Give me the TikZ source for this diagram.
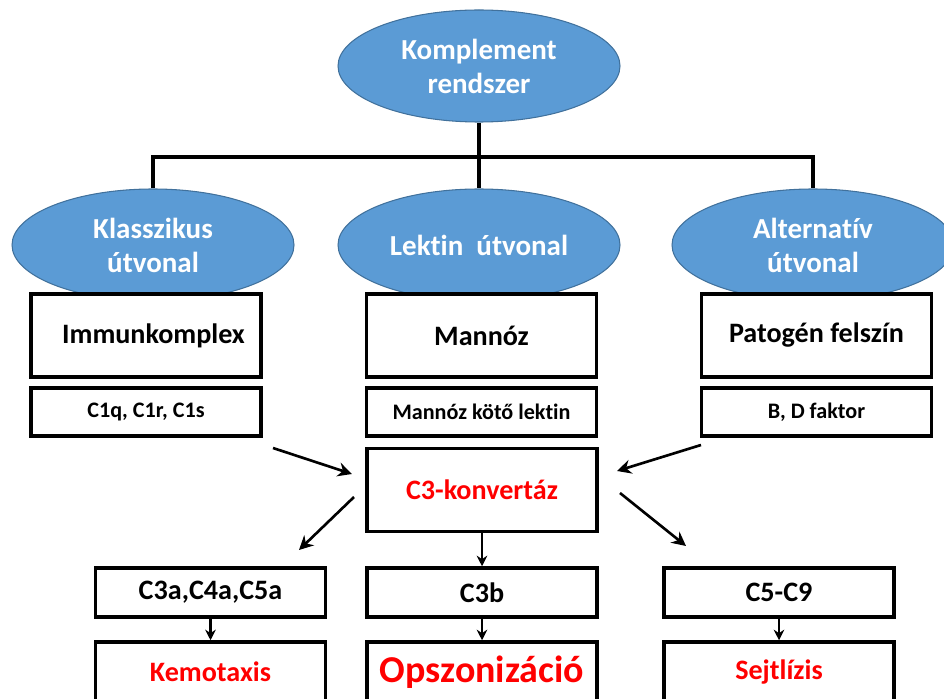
\documentclass[tikz,border=0pt]{standalone}
\usepackage{fontspec}
\setmainfont{Carlito}[RawFeature={-liga;-clig;-calt;-dlig}]
\usetikzlibrary{shapes.geometric,arrows.meta}
\definecolor{ovalblue}{HTML}{5B9BD5}
\definecolor{ovaledge}{HTML}{41719C}

\tikzset{
 oval/.style={ellipse, fill=ovalblue, draw=ovaledge, line width=0.6pt,
  minimum width=5.64cm, minimum height=2.24cm, text=white, align=center,
  inner sep=0pt, font=\bfseries\fontsize{16.5}{19.3}\selectfont},
 bigbox/.style={draw, line width=2pt, fill=white, minimum width=4.6cm,
  minimum height=1.66cm, font=\bfseries\fontsize{16}{19}\selectfont},
 smallbox/.style={bigbox, minimum height=0.96cm,
  font=\bfseries\fontsize{12.6}{15}\selectfont},
 conn/.style={line width=2pt},
 arr/.style={line width=1.5pt, -{Stealth[length=8pt,width=8pt]}},
 shortarr/.style={line width=1.3pt, -{Stealth[length=6pt,width=6pt]}}
}

\begin{document}
\begin{tikzpicture}
 \useasboundingbox (0,0) rectangle (18.88,-13.98);

 % ovals
 \node[oval] (kompl) at (9.58,-1.32) {Komplement\\rendszer};
 \node[oval] (klassz) at (3.06,-4.9) {Klasszikus\\útvonal};
 \node[oval] (lektin) at (9.58,-4.9) {Lektin\ \ útvonal};
 \node[oval] (altern) at (16.26,-4.9) {Alternatív\\útvonal};

 \coordinate (bar) at (9.58,-3.14);
 \draw[conn] (kompl.south) -- (lektin.north);
 \draw[conn] (klassz.north) |- (altern.north |- bar) -- (altern.north);

 % activators
 \node[bigbox] (immun) at (2.92,-6.71) {\hspace{0.3cm}Immunkomplex};
 \node[bigbox] (mannoz) at (9.63,-6.71) {Mannóz};
 \node[bigbox] (patogen) at (16.33,-6.71) {Patogén felszín};

 \node[smallbox] (cegy) at (2.92,-8.24) {C1q, C1r, C1s};
 \node[smallbox] (mbl) at (9.63,-8.24) {Mannóz kötő lektin};
 \node[smallbox] (bdf) at (16.33,-8.24) {B, D faktor};

 % convertase
 \node[bigbox, text=red] (konv) at (9.64,-9.8) {C3-konvertáz};

 \coordinate (bal1) at (5.46,-8.96);
 \coordinate (bal2) at (7.04,-9.48);
 \coordinate (jobb1) at (14.02,-8.9);
 \coordinate (jobb2) at (12.34,-9.42);
 \draw[arr] (bal1) -- (bal2);
 \draw[arr] (jobb1) -- (jobb2);

 % products
 \node[bigbox, minimum height=0.98cm] (harom) at (4.21,-11.85) {C3a,C4a,C5a};
 \node[bigbox, minimum height=0.98cm] (cb) at (9.64,-11.85) {C3b};
 \node[bigbox, minimum height=0.98cm] (cot) at (15.58,-11.85) {C5-C9};

 \coordinate (le1) at (7.08,-9.94);
 \coordinate (le2) at (5.98,-11.0);
 \coordinate (jo1) at (12.4,-9.86);
 \coordinate (jo2) at (13.72,-10.92);
 \draw[arr] (le1) -- (le2);
 \draw[arr] (jo1) -- (jo2);
 \draw[shortarr] (konv.south) -- (cb.north);

 % effects
 \node[bigbox, minimum height=1.2cm, text=red] (kemo) at (4.21,-13.44) {Kemotaxis};
 \node[bigbox, minimum height=1.2cm, text=red,
  font=\bfseries\fontsize{21.6}{24}\selectfont] (opsz) at (9.64,-13.44) {Opszonizáció};
 \node[bigbox, minimum height=1.2cm, text=red] (lizis) at (15.58,-13.44) {Sejtlízis};

 \draw[shortarr] (harom.south) -- (kemo.north);
 \draw[shortarr] (cb.south) -- (opsz.north);
 \draw[shortarr] (cot.south) -- (lizis.north);
\end{tikzpicture}
\end{document}
